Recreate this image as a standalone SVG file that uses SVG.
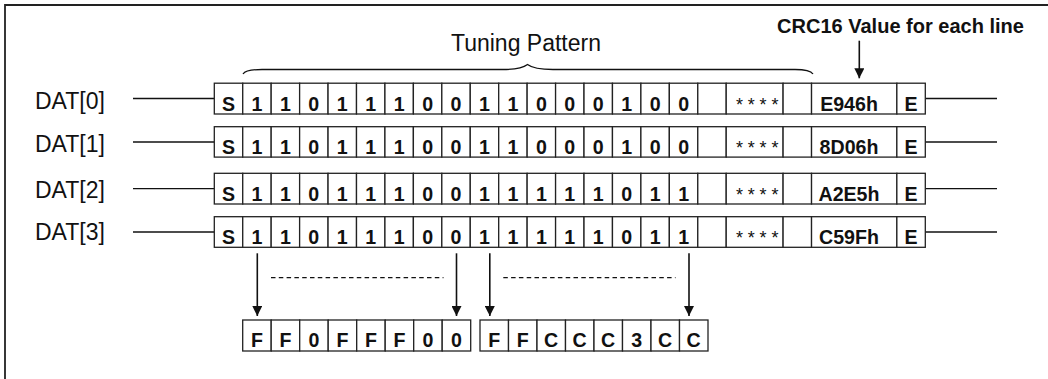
<svg xmlns="http://www.w3.org/2000/svg" width="1048" height="379" viewBox="0 0 1048 379">
<defs>
<marker id="ah" viewBox="0 0 10 10" refX="10" refY="5" markerWidth="10" markerHeight="10" markerUnits="userSpaceOnUse" orient="auto">
<path d="M0,0 L10,5 L0,10 Z" fill="#111"/>
</marker>
</defs>
<style>
.c{fill:#fff;stroke:#222;stroke-width:1.3}
.b{font-family:"Liberation Sans",Arial,sans-serif;font-weight:bold;font-size:19.6px;fill:#111;text-anchor:middle}
.l{font-family:"Liberation Sans",Arial,sans-serif;font-size:23px;fill:#111}
.s{font-family:"Liberation Sans",Arial,sans-serif;font-size:18px;fill:#111;letter-spacing:4.8px}
.w{fill:none;stroke:#111;stroke-width:1.3}
.a{fill:none;stroke:#111;stroke-width:1.6;marker-end:url(#ah)}
.d{fill:none;stroke:#111;stroke-width:1.2;stroke-dasharray:4.5 3.3}
.f{fill:none;stroke:#222;stroke-width:1.8}
</style>
<rect width="1048" height="379" fill="#fff"/>
<path class="f" d="M5,379 V5 H1048"/>

<g id="title">
<text class="l" x="526" y="50.7" text-anchor="middle">Tuning Pattern</text>
<path class="w" d="M243,74 Q246,69.5 262,69.5 L502,69.5 Q521,69.5 527.5,64.5 Q534,69.5 553,69.5 L795,69.5 Q810,69.5 813,74"/>
</g>
<g id="crc-label">
<text class="b" x="900.5" y="33.3" style="font-size:20px">CRC16 Value for each line</text>
</g>

<g id="connectors">
<line class="w" x1="133" y1="98.5" x2="214.3" y2="98.5"/>
<line class="w" x1="133" y1="142" x2="214.3" y2="142"/>
<line class="w" x1="133" y1="188.7" x2="214.3" y2="188.7"/>
<line class="w" x1="133" y1="232" x2="214.3" y2="232"/>
<line class="w" x1="925.3" y1="98.5" x2="997" y2="98.5"/>
<line class="w" x1="925.3" y1="142" x2="997" y2="142"/>
<line class="w" x1="925.3" y1="188.7" x2="997" y2="188.7"/>
<line class="w" x1="925.3" y1="232" x2="997" y2="232"/>
<line class="a" x1="859.3" y1="40.7" x2="859.3" y2="78.3"/>
<line class="a" x1="257.3" y1="253.3" x2="257.3" y2="316"/>
<line class="a" x1="456.5" y1="253.3" x2="456.5" y2="316"/>
<line class="a" x1="489.8" y1="253.3" x2="489.8" y2="316"/>
<line class="a" x1="689" y1="253.3" x2="689" y2="316"/>
<line class="d" x1="271" y1="277.7" x2="443.5" y2="277.7"/>
<line class="d" x1="503.3" y1="277.7" x2="675.5" y2="277.7"/>
</g>

<g id="labels">
<text class="l" x="35" y="109">DAT[0]</text>
<text class="l" x="35" y="151.5">DAT[1]</text>
<text class="l" x="35" y="197.5">DAT[2]</text>
<text class="l" x="35" y="240">DAT[3]</text>
</g>

<g id="dat0">
<rect class="c" x="214.3" y="83.2" width="28.44" height="30.8"/>
<rect class="c" x="242.74" y="83.2" width="28.44" height="30.8"/>
<rect class="c" x="271.18" y="83.2" width="28.44" height="30.8"/>
<rect class="c" x="299.62" y="83.2" width="28.44" height="30.8"/>
<rect class="c" x="328.06" y="83.2" width="28.44" height="30.8"/>
<rect class="c" x="356.5" y="83.2" width="28.44" height="30.8"/>
<rect class="c" x="384.94" y="83.2" width="28.44" height="30.8"/>
<rect class="c" x="413.38" y="83.2" width="28.44" height="30.8"/>
<rect class="c" x="441.82" y="83.2" width="28.44" height="30.8"/>
<rect class="c" x="470.26" y="83.2" width="28.44" height="30.8"/>
<rect class="c" x="498.7" y="83.2" width="28.44" height="30.8"/>
<rect class="c" x="527.14" y="83.2" width="28.44" height="30.8"/>
<rect class="c" x="555.58" y="83.2" width="28.44" height="30.8"/>
<rect class="c" x="584.02" y="83.2" width="28.44" height="30.8"/>
<rect class="c" x="612.46" y="83.2" width="28.44" height="30.8"/>
<rect class="c" x="640.9" y="83.2" width="28.44" height="30.8"/>
<rect class="c" x="669.34" y="83.2" width="28.44" height="30.8"/>
<rect class="c" x="697.78" y="83.2" width="28.44" height="30.8"/>
<rect class="c" x="726.22" y="83.2" width="56.88" height="30.8"/>
<rect class="c" x="783.1" y="83.2" width="28.44" height="30.8"/>
<rect class="c" x="811.54" y="83.2" width="85.32" height="30.8"/>
<rect class="c" x="896.86" y="83.2" width="28.44" height="30.8"/>
<text class="b" y="110.5"><tspan x="228.5">S</tspan><tspan x="257">1</tspan><tspan x="285.4">1</tspan><tspan x="313.8">0</tspan><tspan x="342.3">1</tspan><tspan x="370.7">1</tspan><tspan x="399.2">1</tspan><tspan x="427.6">0</tspan><tspan x="456">0</tspan><tspan x="484.5">1</tspan><tspan x="512.9">1</tspan><tspan x="541.4">0</tspan><tspan x="569.8">0</tspan><tspan x="598.2">0</tspan><tspan x="626.7">1</tspan><tspan x="655.1">0</tspan><tspan x="683.6">0</tspan></text>
<text class="s" x="736" y="111">****</text>
<text class="b" x="849" y="111">E946h</text>
<text class="b" x="911" y="110.5">E</text>
</g>

<g id="dat1">
<rect class="c" x="214.3" y="126.7" width="28.44" height="30.4"/>
<rect class="c" x="242.74" y="126.7" width="28.44" height="30.4"/>
<rect class="c" x="271.18" y="126.7" width="28.44" height="30.4"/>
<rect class="c" x="299.62" y="126.7" width="28.44" height="30.4"/>
<rect class="c" x="328.06" y="126.7" width="28.44" height="30.4"/>
<rect class="c" x="356.5" y="126.7" width="28.44" height="30.4"/>
<rect class="c" x="384.94" y="126.7" width="28.44" height="30.4"/>
<rect class="c" x="413.38" y="126.7" width="28.44" height="30.4"/>
<rect class="c" x="441.82" y="126.7" width="28.44" height="30.4"/>
<rect class="c" x="470.26" y="126.7" width="28.44" height="30.4"/>
<rect class="c" x="498.7" y="126.7" width="28.44" height="30.4"/>
<rect class="c" x="527.14" y="126.7" width="28.44" height="30.4"/>
<rect class="c" x="555.58" y="126.7" width="28.44" height="30.4"/>
<rect class="c" x="584.02" y="126.7" width="28.44" height="30.4"/>
<rect class="c" x="612.46" y="126.7" width="28.44" height="30.4"/>
<rect class="c" x="640.9" y="126.7" width="28.44" height="30.4"/>
<rect class="c" x="669.34" y="126.7" width="28.44" height="30.4"/>
<rect class="c" x="697.78" y="126.7" width="28.44" height="30.4"/>
<rect class="c" x="726.22" y="126.7" width="56.88" height="30.4"/>
<rect class="c" x="783.1" y="126.7" width="28.44" height="30.4"/>
<rect class="c" x="811.54" y="126.7" width="85.32" height="30.4"/>
<rect class="c" x="896.86" y="126.7" width="28.44" height="30.4"/>
<text class="b" y="153.8"><tspan x="228.5">S</tspan><tspan x="257">1</tspan><tspan x="285.4">1</tspan><tspan x="313.8">0</tspan><tspan x="342.3">1</tspan><tspan x="370.7">1</tspan><tspan x="399.2">1</tspan><tspan x="427.6">0</tspan><tspan x="456">0</tspan><tspan x="484.5">1</tspan><tspan x="512.9">1</tspan><tspan x="541.4">0</tspan><tspan x="569.8">0</tspan><tspan x="598.2">0</tspan><tspan x="626.7">1</tspan><tspan x="655.1">0</tspan><tspan x="683.6">0</tspan></text>
<text class="s" x="736" y="154.3">****</text>
<text class="b" x="849" y="154.3">8D06h</text>
<text class="b" x="911" y="153.8">E</text>
</g>

<g id="dat2">
<rect class="c" x="214.3" y="173.3" width="28.44" height="30.7"/>
<rect class="c" x="242.74" y="173.3" width="28.44" height="30.7"/>
<rect class="c" x="271.18" y="173.3" width="28.44" height="30.7"/>
<rect class="c" x="299.62" y="173.3" width="28.44" height="30.7"/>
<rect class="c" x="328.06" y="173.3" width="28.44" height="30.7"/>
<rect class="c" x="356.5" y="173.3" width="28.44" height="30.7"/>
<rect class="c" x="384.94" y="173.3" width="28.44" height="30.7"/>
<rect class="c" x="413.38" y="173.3" width="28.44" height="30.7"/>
<rect class="c" x="441.82" y="173.3" width="28.44" height="30.7"/>
<rect class="c" x="470.26" y="173.3" width="28.44" height="30.7"/>
<rect class="c" x="498.7" y="173.3" width="28.44" height="30.7"/>
<rect class="c" x="527.14" y="173.3" width="28.44" height="30.7"/>
<rect class="c" x="555.58" y="173.3" width="28.44" height="30.7"/>
<rect class="c" x="584.02" y="173.3" width="28.44" height="30.7"/>
<rect class="c" x="612.46" y="173.3" width="28.44" height="30.7"/>
<rect class="c" x="640.9" y="173.3" width="28.44" height="30.7"/>
<rect class="c" x="669.34" y="173.3" width="28.44" height="30.7"/>
<rect class="c" x="697.78" y="173.3" width="28.44" height="30.7"/>
<rect class="c" x="726.22" y="173.3" width="56.88" height="30.7"/>
<rect class="c" x="783.1" y="173.3" width="28.44" height="30.7"/>
<rect class="c" x="811.54" y="173.3" width="85.32" height="30.7"/>
<rect class="c" x="896.86" y="173.3" width="28.44" height="30.7"/>
<text class="b" y="200.5"><tspan x="228.5">S</tspan><tspan x="257">1</tspan><tspan x="285.4">1</tspan><tspan x="313.8">0</tspan><tspan x="342.3">1</tspan><tspan x="370.7">1</tspan><tspan x="399.2">1</tspan><tspan x="427.6">0</tspan><tspan x="456">0</tspan><tspan x="484.5">1</tspan><tspan x="512.9">1</tspan><tspan x="541.4">1</tspan><tspan x="569.8">1</tspan><tspan x="598.2">1</tspan><tspan x="626.7">0</tspan><tspan x="655.1">1</tspan><tspan x="683.6">1</tspan></text>
<text class="s" x="736" y="201">****</text>
<text class="b" x="849" y="201">A2E5h</text>
<text class="b" x="911" y="200.5">E</text>
</g>

<g id="dat3">
<rect class="c" x="214.3" y="216.7" width="28.44" height="30.6"/>
<rect class="c" x="242.74" y="216.7" width="28.44" height="30.6"/>
<rect class="c" x="271.18" y="216.7" width="28.44" height="30.6"/>
<rect class="c" x="299.62" y="216.7" width="28.44" height="30.6"/>
<rect class="c" x="328.06" y="216.7" width="28.44" height="30.6"/>
<rect class="c" x="356.5" y="216.7" width="28.44" height="30.6"/>
<rect class="c" x="384.94" y="216.7" width="28.44" height="30.6"/>
<rect class="c" x="413.38" y="216.7" width="28.44" height="30.6"/>
<rect class="c" x="441.82" y="216.7" width="28.44" height="30.6"/>
<rect class="c" x="470.26" y="216.7" width="28.44" height="30.6"/>
<rect class="c" x="498.7" y="216.7" width="28.44" height="30.6"/>
<rect class="c" x="527.14" y="216.7" width="28.44" height="30.6"/>
<rect class="c" x="555.58" y="216.7" width="28.44" height="30.6"/>
<rect class="c" x="584.02" y="216.7" width="28.44" height="30.6"/>
<rect class="c" x="612.46" y="216.7" width="28.44" height="30.6"/>
<rect class="c" x="640.9" y="216.7" width="28.44" height="30.6"/>
<rect class="c" x="669.34" y="216.7" width="28.44" height="30.6"/>
<rect class="c" x="697.78" y="216.7" width="28.44" height="30.6"/>
<rect class="c" x="726.22" y="216.7" width="56.88" height="30.6"/>
<rect class="c" x="783.1" y="216.7" width="28.44" height="30.6"/>
<rect class="c" x="811.54" y="216.7" width="85.32" height="30.6"/>
<rect class="c" x="896.86" y="216.7" width="28.44" height="30.6"/>
<text class="b" y="243.8"><tspan x="228.5">S</tspan><tspan x="257">1</tspan><tspan x="285.4">1</tspan><tspan x="313.8">0</tspan><tspan x="342.3">1</tspan><tspan x="370.7">1</tspan><tspan x="399.2">1</tspan><tspan x="427.6">0</tspan><tspan x="456">0</tspan><tspan x="484.5">1</tspan><tspan x="512.9">1</tspan><tspan x="541.4">1</tspan><tspan x="569.8">1</tspan><tspan x="598.2">1</tspan><tspan x="626.7">0</tspan><tspan x="655.1">1</tspan><tspan x="683.6">1</tspan></text>
<text class="s" x="736" y="244.3">****</text>
<text class="b" x="849" y="244.3">C59Fh</text>
<text class="b" x="911" y="243.8">E</text>
</g>

<g id="out1">
<rect class="c" x="242.7" y="320" width="28.5" height="31"/>
<rect class="c" x="271.2" y="320" width="28.5" height="31"/>
<rect class="c" x="299.7" y="320" width="28.5" height="31"/>
<rect class="c" x="328.2" y="320" width="28.5" height="31"/>
<rect class="c" x="356.7" y="320" width="28.5" height="31"/>
<rect class="c" x="385.2" y="320" width="28.5" height="31"/>
<rect class="c" x="413.7" y="320" width="28.5" height="31"/>
<rect class="c" x="442.2" y="320" width="28.5" height="31"/>
<text class="b" y="346.7"><tspan x="257">F</tspan><tspan x="285.5">F</tspan><tspan x="314">0</tspan><tspan x="342.5">F</tspan><tspan x="371">F</tspan><tspan x="399.5">F</tspan><tspan x="428">0</tspan><tspan x="456.5">0</tspan></text>
</g>

<g id="out2">
<rect class="c" x="480" y="320" width="28.5" height="31"/>
<rect class="c" x="508.5" y="320" width="28.5" height="31"/>
<rect class="c" x="537" y="320" width="28.5" height="31"/>
<rect class="c" x="565.5" y="320" width="28.5" height="31"/>
<rect class="c" x="594" y="320" width="28.5" height="31"/>
<rect class="c" x="622.5" y="320" width="28.5" height="31"/>
<rect class="c" x="651" y="320" width="28.5" height="31"/>
<rect class="c" x="679.5" y="320" width="28.5" height="31"/>
<text class="b" y="346.7"><tspan x="494.2">F</tspan><tspan x="522.7">F</tspan><tspan x="551.2">C</tspan><tspan x="579.7">C</tspan><tspan x="608.2">C</tspan><tspan x="636.7">3</tspan><tspan x="665.2">C</tspan><tspan x="693.7">C</tspan></text>
</g>
</svg>
